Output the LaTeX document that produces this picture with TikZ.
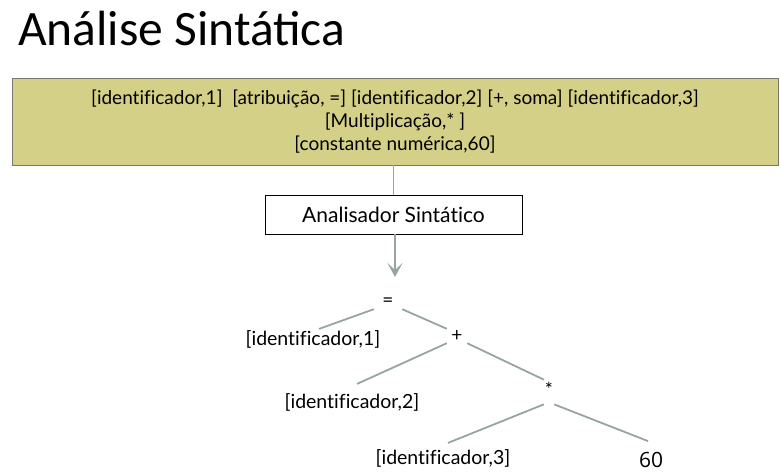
\documentclass[tikz,border=0pt]{standalone}
\usepackage{fontspec}
\setmainfont[Ligatures=CommonOff]{Lato}
\newfontfamily\titlefont{Carlito}
\newfontfamily\numfont{Open Sans}
\usetikzlibrary{arrows.meta,positioning}
\definecolor{tokenfill}{RGB}{213,208,135}
\definecolor{tokenline}{RGB}{120,120,110}
\definecolor{treeline}{RGB}{150,165,158}

\tikzset{
  leaf/.style={inner sep=1pt, font=\fontsize{19.5}{22}\selectfont},
  op/.style={inner sep=0pt, minimum height=14pt, font=\fontsize{19}{22}\selectfont},
  branch/.style={treeline, line width=1.8pt}
}

\begin{document}
\begin{tikzpicture}[x=1pt,y=-1pt]
    \useasboundingbox (0,0) rectangle (781,475);
    % title
    \node[anchor=base west, inner sep=0pt, font=\titlefont\fontsize{49.5}{56}\selectfont] (title) at (18,45) {Análise Sintática};

    % token stream
    \node[draw=tokenline, fill=tokenfill, line width=0.8pt, minimum width=766pt, minimum height=87pt,
          align=center, font=\fontsize{19}{23}\selectfont] (tokens) at (395,121.5)
          {[identificador,1]\ \ [atribuição, =] [identificador,2] [+, soma] [identificador,3]\\{}%
           [Multiplicação,* ]\\{}%
           [constante numérica,60]};

    \node[draw, line width=0.6pt, minimum width=257pt, minimum height=39pt,
          font=\fontsize{21}{24}\selectfont] (parser) at (393.5,214.5) {Analisador Sintático};

    \draw[branch] (tokens.south -| parser.north) -- (parser.north);
    \coordinate (tip) at (395,277);
    \draw[branch, -{Stealth[length=14pt, width=15pt, inset=7pt]}] (parser.south -| tip) -- (tip);

    % tree
    \node[op, minimum width=28pt] (assign) at (388,302) {=};
    \node[leaf] (id1) at (313,339) {[identificador,1]};
    \node[op, minimum width=20pt] (plus) at (457,336) {+};
    \node[leaf] (id2) at (352,402) {[identificador,2]};
    \node[op, minimum width=10pt, minimum height=20pt, text depth=8pt] (times) at (549,393) {*};
    \node[leaf] (id3) at (443,458) {[identificador,3]};
    \node[leaf, font=\numfont\fontsize{21}{24}\selectfont] (num) at (651,460) {60};

    \draw[branch] (assign.south west) -- ([xshift=6pt]id1.north);
    \draw[branch] (assign.south east) -- (plus.north west);
    \draw[branch] (plus.south west) -- ([xshift=5pt, yshift=8pt]id2.north);
    \draw[branch] (plus.south east) -- ([yshift=2pt]times.north west);
    \draw[branch] (times.south west) -- ([xshift=5pt, yshift=5pt]id3.north);
    \draw[branch] (times.south east) -- ([xshift=-3pt, yshift=10pt]num.north);
\end{tikzpicture}
\end{document}
